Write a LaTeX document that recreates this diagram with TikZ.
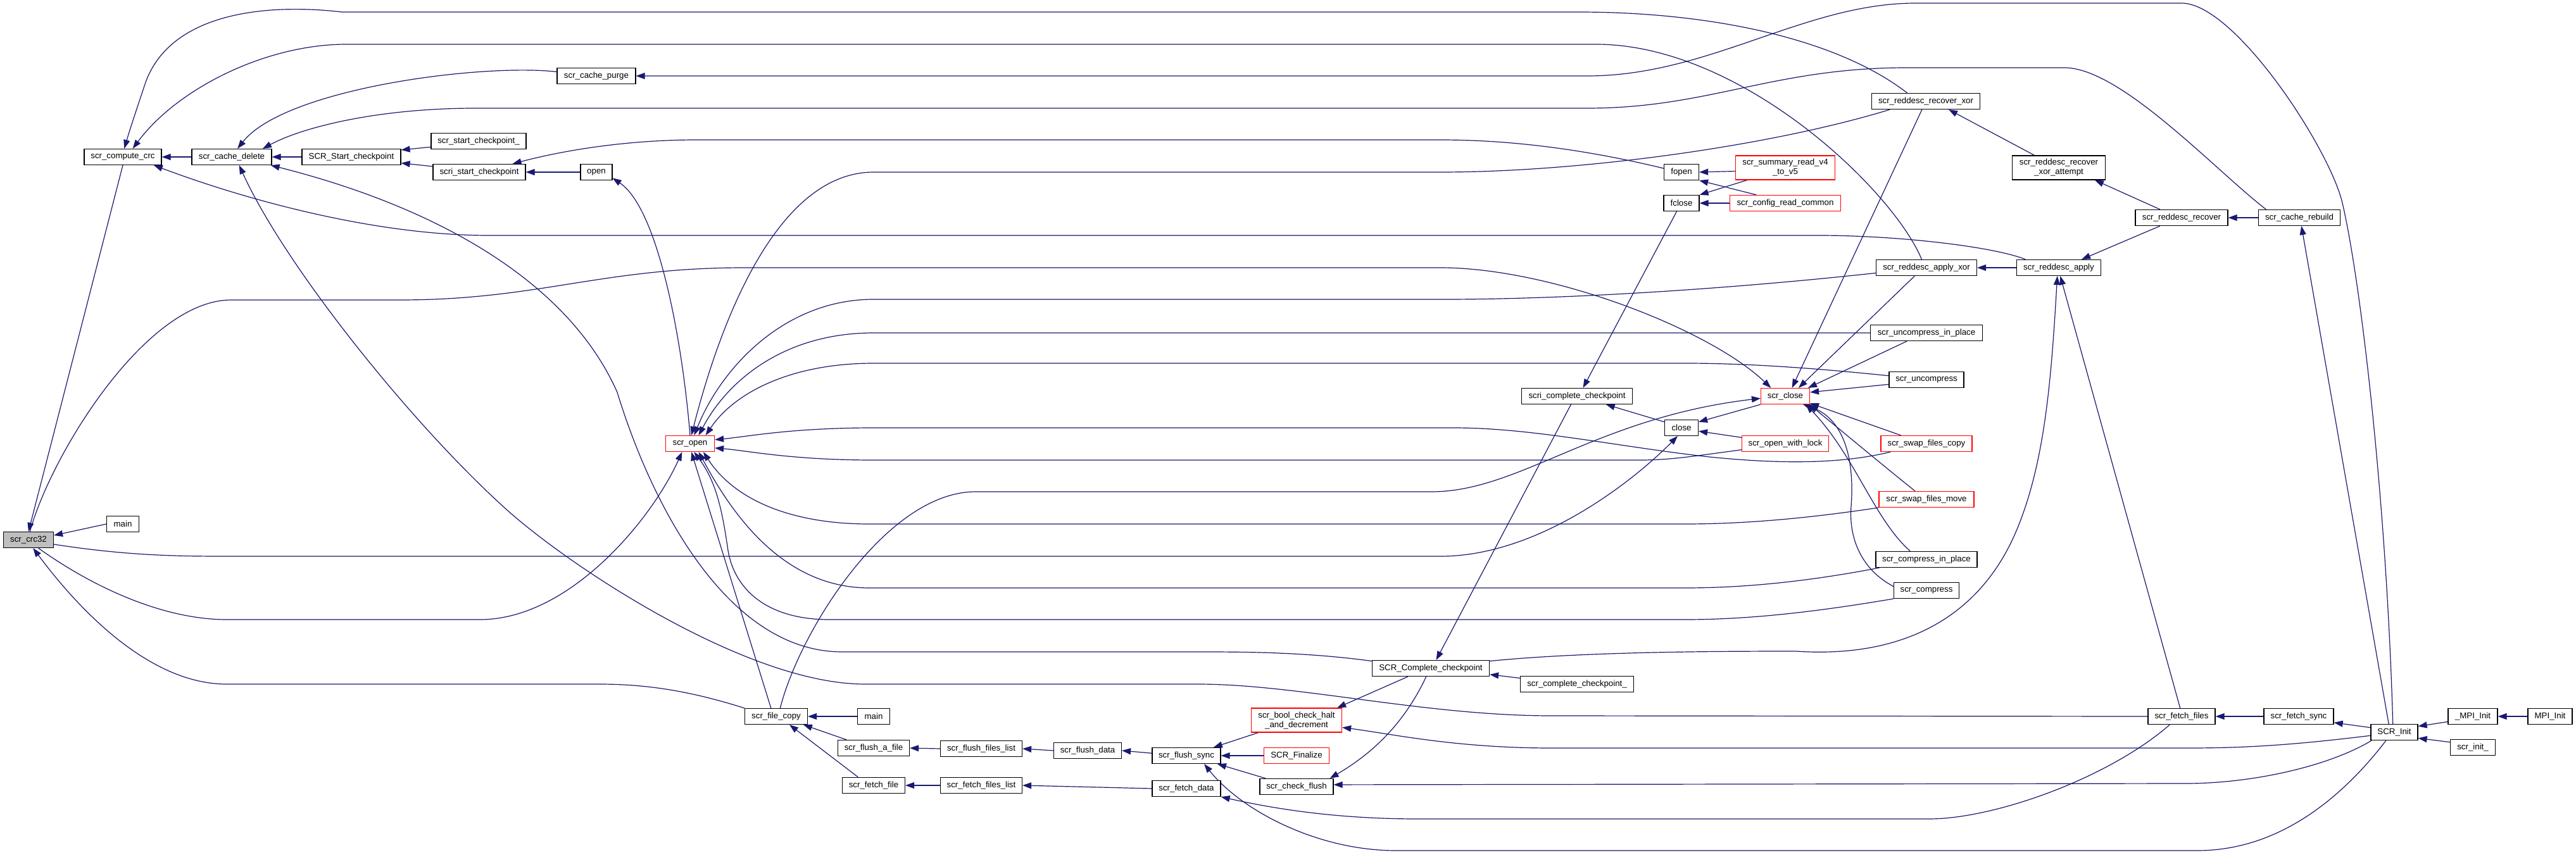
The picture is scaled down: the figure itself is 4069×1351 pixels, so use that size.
\documentclass[tikz,border=0pt]{standalone}
\usepackage{fontspec}
\setmainfont{Liberation Sans}
\usetikzlibrary{arrows.meta}
\definecolor{edgec}{HTML}{191970}
\definecolor{crcgray}{HTML}{BFBFBF}
\pgfdeclarelayer{bg}
\pgfsetlayers{bg,main}
\begin{document}
\begin{tikzpicture}[x=1pt,y=-1pt,
  nd/.style={draw=black, line width=1.2pt, fill=white, minimum height=25pt, inner xsep=2pt, inner ysep=1pt,
    font=\fontsize{13.3}{15}\selectfont, align=center},
  rd/.style={nd, draw=red},
  cl/.style={draw=edgec, line width=1.2pt, -{Triangle[length=14pt,width=10pt]}}]
\useasboundingbox (0,0) rectangle (4069,1351);
% nodes
\node[nd,fill=crcgray,minimum width=79pt] (crc) at (45,853) {scr\_crc32};
\node[nd,minimum width=51pt] (mainA) at (194,828) {main};
\node[nd,minimum width=122pt] (ccrc) at (194,248) {scr\_compute\_crc};
\node[nd,minimum width=126pt] (cdel) at (366,248) {scr\_cache\_delete};
\node[nd,minimum width=156pt] (SSc) at (555,248) {SCR\_Start\_checkpoint};
\node[nd,minimum width=150pt] (sscu) at (756,223) {scr\_start\_checkpoint\_};
\node[nd,minimum width=146pt] (sric) at (757,272) {scri\_start\_checkpoint};
\node[nd,minimum width=50pt] (opn) at (942,272) {open};
\node[nd,minimum width=124pt] (purge) at (942,120) {scr\_cache\_purge};
\node[rd,minimum width=77pt] (sopen) at (1090,701) {scr\_open};
\node[nd,minimum width=99pt] (fcopy) at (1226,1132) {scr\_file\_copy};
\node[nd,minimum width=51pt] (mainB) at (1380,1132) {main};
\node[nd,minimum width=113pt] (flaf) at (1380,1182) {scr\_flush\_a\_file};
\node[nd,minimum width=129pt] (ffl) at (1550,1183) {scr\_flush\_files\_list};
\node[nd,minimum width=107pt] (fdata) at (1718,1186) {scr\_flush\_data};
\node[nd,minimum width=108pt] (fsync) at (1874,1194) {scr\_flush\_sync};
\node[rd,minimum width=143pt,minimum height=38pt] (bool) at (2048,1138) {scr\_bool\_check\_halt\\\_and\_decrement};
\node[rd,minimum width=103pt] (fin) at (2048,1194) {SCR\_Finalize};
\node[nd,minimum width=116pt] (cflush) at (2048,1243) {scr\_check\_flush};
\node[nd,minimum width=99pt] (ffile) at (1380,1241) {scr\_fetch\_file};
\node[nd,minimum width=129pt] (fetfl) at (1550,1241) {scr\_fetch\_files\_list};
\node[nd,minimum width=108pt] (fetd) at (1874,1246) {scr\_fetch\_data};
\node[nd,minimum width=171pt] (rxor) at (3042,160) {scr\_reddesc\_recover\_xor};
\node[nd,minimum width=55pt] (fopen) at (2656,272) {fopen};
\node[nd,minimum width=56pt] (fclose) at (2656,321) {fclose};
\node[rd,minimum width=157pt,minimum height=38pt] (sumr) at (2820,265) {scr\_summary\_read\_v4\\\_to\_v5};
\node[rd,minimum width=175pt] (cfg) at (2820,321) {scr\_config\_read\_common};
\node[nd,minimum width=159pt] (axor) at (3043,423) {scr\_reddesc\_apply\_xor};
\node[nd,minimum width=177pt] (uip) at (3043,526) {scr\_uncompress\_in\_place};
\node[nd,minimum width=118pt] (unc) at (3043,600) {scr\_uncompress};
\node[rd,minimum width=77pt] (sclose) at (2820,626) {scr\_close};
\node[nd,minimum width=175pt] (scc) at (2491,626) {scri\_complete\_checkpoint};
\node[nd,minimum width=53pt] (clo) at (2656,676) {close};
\node[rd,minimum width=137pt] (owl) at (2820,701) {scr\_open\_with\_lock};
\node[rd,minimum width=144pt] (sfc) at (3043,701) {scr\_swap\_files\_copy};
\node[rd,minimum width=150pt] (sfm) at (3043,789) {scr\_swap\_files\_move};
\node[nd,minimum width=160pt] (cip) at (3043,884) {scr\_compress\_in\_place};
\node[nd,minimum width=103pt] (comp) at (3043,933) {scr\_compress};
\node[nd,minimum width=185pt] (SCc) at (2260,1056) {SCR\_Complete\_checkpoint};
\node[nd,minimum width=179pt] (sccu) at (2491,1081) {scr\_complete\_checkpoint\_};
\node[nd,minimum width=147pt,minimum height=38pt] (att) at (3252,265) {scr\_reddesc\_recover\\\_xor\_attempt};
\node[nd,minimum width=146pt] (recov) at (3446,344) {scr\_reddesc\_recover};
\node[nd,minimum width=129pt] (rebuild) at (3632,344) {scr\_cache\_rebuild};
\node[nd,minimum width=133pt] (apply) at (3252,423) {scr\_reddesc\_apply};
\node[nd,minimum width=106pt] (ffiles) at (3446,1132) {scr\_fetch\_files};
\node[nd,minimum width=110pt] (fsyncB) at (3631,1132) {scr\_fetch\_sync};
\node[nd,minimum width=74pt] (init) at (3782,1157) {SCR\_Init};
\node[nd,minimum width=78pt] (mpiu) at (3906,1132) {\_MPI\_Init};
\node[nd,minimum width=70pt] (mpi) at (4028,1132) {MPI\_Init};
\node[nd,minimum width=71pt] (initu) at (3906,1181) {scr\_init\_};
% edges
\begin{pgfonlayer}{bg}
\fill[white] (0,0) rectangle (4069,1351);
\draw[cl] (mainA.west) -- (crc.10);
\draw[cl] (ccrc.south) -- (crc.north);
\draw[cl] (crc.80) .. controls (80,720) and (230,474) .. (365,474) -- (631,474) .. controls (850,474) and (950,423) .. (1176,423) -- (2275,423) .. controls (2450,423) and (2700,520) .. (sclose.150);
\draw[cl] (crc.-10) .. controls (200,878) and (280,879) .. (358,879) -- (2275,879) .. controls (2430,879) and (2580,760) .. (clo.245);
\draw[cl] (crc.-40) .. controls (150,930) and (260,979) .. (358,979) -- (758,979) .. controls (900,979) and (1030,820) .. (sopen.226);
\draw[cl] (fcopy.north west) .. controls (1100,1095) and (1030,1081) .. (947,1081) -- (358,1081) .. controls (220,1081) and (100,930) .. (crc.299);
\draw[cl] (fcopy.64) .. controls (1262,1000) and (1400,777) .. (1541,777) -- (2261,777) .. controls (2400,777) and (2520,660) .. (sclose.185);
\draw[cl] (fcopy.122) -- (sopen.279);
\draw[cl] (mainB.west) -- (fcopy.east);
\draw[cl] (flaf.163) -- (fcopy.343);
\draw[cl] (ffile.152) -- (fcopy.328);
\draw[cl] (ffl.west) -- (flaf.east);
\draw[cl] (fdata.west) -- (ffl.east);
\draw[cl] (fsync.176) -- (fdata.east);
\draw[cl] (bool.198) -- (fsync.17);
\draw[cl] (fin.west) -- (fsync.east);
\draw[cl] (cflush.165) -- (fsync.345);
\draw[cl] (init.225) .. controls (3700,1260) and (3600,1344) .. (3471,1344) -- (2205,1344) .. controls (2080,1344) and (1960,1280) .. (fsync.335);
\draw[cl] (fetfl.west) -- (ffile.east);
\draw[cl] (fetd.west) -- (fetfl.east);
\draw[cl] (ffiles.215) .. controls (3330,1230) and (3150,1294) .. (3047,1294) -- (2240,1294) .. controls (2100,1294) and (2000,1275) .. (fetd.south east);
\draw[cl] (fsyncB.west) -- (ffiles.east);
\draw[cl] (init.169) -- (fsyncB.-10);
\draw[cl] (mpiu.192) -- (init.14);
\draw[cl] (mpi.west) -- (mpiu.east);
\draw[cl] (initu.167) -- (init.-14);
\draw[cl] (init.188) .. controls (3640,1175) and (3560,1182) .. (3458,1182) -- (2451,1182) .. controls (2300,1182) and (2200,1160) .. (bool.-9);
\draw[cl] (init.200) .. controls (3680,1210) and (3560,1238) .. (3452,1238) -- (cflush.3);
\draw[cl] (SCc.241) .. controls (2215,1150) and (2160,1195) .. (cflush.14);
\draw[cl] (SCc.200) -- (bool.17);
\draw[cl] (sccu.174) -- (SCc.-6);
\draw[cl] (scc.234) -- (SCc.57);
\draw[cl] (fclose.240) -- (scc.54);
\draw[cl] (clo.161) -- (scc.-16);
\draw[cl] (sclose.south west) -- (clo.19);
\draw[cl] (owl.172) -- (clo.-11);
\draw[cl] (sumr.184) -- (fopen.east);
\draw[cl] (cfg.164) -- (fopen.south east);
\draw[cl] (sumr.198) -- (fclose.north east);
\draw[cl] (cfg.west) -- (fclose.east);
\draw[cl] (fopen.168) .. controls (2520,240) and (2400,221) .. (2275,221) -- (1100,221) .. controls (1000,221) and (900,235) .. (sric.14);
\draw[cl] (sric.173) -- (SSc.-7);
\draw[cl] (sscu.187) -- (SSc.8);
\draw[cl] (SSc.west) -- (cdel.east);
\draw[cl] (cdel.west) -- (ccrc.east);
\draw[cl] (opn.west) -- (sric.east);
\draw[cl] (sopen.north) .. controls (1078,540) and (1040,330) .. (opn.-20);
\draw[cl] (purge.174) .. controls (760,100) and (450,140) .. (cdel.55);
\draw[cl] (rebuild.166) .. controls (3500,270) and (3350,107) .. (3261,107) -- (3012,107) .. controls (2800,107) and (2700,171) .. (2507,171) -- (751,171) .. controls (600,171) and (480,200) .. (cdel.15);
\draw[cl] (SCc.173) .. controls (2060,1030) and (1960,1030) .. (1892,1030) -- (1330,1030) .. controls (1150,1030) and (1030,800) .. (975,620) .. controls (900,450) and (700,330) .. (cdel.-12);
\draw[cl] (ffiles.west) -- (2451,1131) .. controls (2250,1131) and (2050,1081) .. (1892,1081) -- (1366,1081) .. controls (1180,1081) and (900,895) .. (800,805) .. controls (650,670) and (450,420) .. (cdel.-48);
\draw[cl] (SCc.7) .. controls (2500,1030) and (2700,1029) .. (2837,1029) .. controls (3000,1040) and (3120,980) .. (3180,850) .. controls (3230,740) and (3240,600) .. (apply.260);
\draw[cl] (ffiles.100) -- (apply.280);
\draw[cl] (apply.west) -- (axor.east);
\draw[cl] (recov.201) -- (apply.20);
\draw[cl] (recov.159) -- (att.-19);
\draw[cl] (att.153) -- (rxor.-20);
\draw[cl] (rebuild.west) -- (recov.east);
\draw[cl] (init.124) -- (rebuild.-76);
\draw[cl] (init.100) .. controls (3770,800) and (3730,450) .. (3700,321) .. controls (3680,235) and (3530,5) .. (3446,5) -- (3026,5) .. controls (2850,5) and (2700,120) .. (2507,120) -- (purge.east);
\draw[cl] (rxor.156) .. controls (2900,60) and (2700,19) .. (2493,19) -- (540,19) .. controls (420,5) and (270,20) .. (230,130) .. controls (215,175) and (205,205) .. (ccrc.80);
\draw[cl] (axor.120) .. controls (2990,300) and (2750,70) .. (2521,70) -- (547,70) .. controls (420,70) and (280,140) .. (ccrc.40);
\draw[cl] (apply.166) .. controls (3150,390) and (3000,372) .. (2872,372) -- (772,372) .. controls (600,372) and (400,320) .. (ccrc.-15);
\draw[cl] (rxor.193) .. controls (2800,230) and (2500,272) .. (2275,272) -- (1380,272) .. controls (1230,272) and (1140,500) .. (sopen.81);
\draw[cl] (axor.186) .. controls (2700,460) and (2450,473) .. (2282,473) -- (1380,473) .. controls (1240,473) and (1140,580) .. (sopen.64);
\draw[cl] (uip.west) -- (1380,526) .. controls (1240,526) and (1150,600) .. (sopen.44);
\draw[cl] (unc.174) .. controls (2850,580) and (2750,574) .. (2661,574) -- (1380,574) .. controls (1250,574) and (1160,620) .. (sopen.28);
\draw[cl] (sfc.193) .. controls (2900,735) and (2800,732) .. (2700,722) .. controls (2550,705) and (2420,676) .. (2296,676) -- (1380,676) .. controls (1250,676) and (1180,690) .. (sopen.9);
\draw[cl] (owl.188) .. controls (2680,720) and (2640,727) .. (2591,727) -- (1380,727) .. controls (1250,727) and (1180,712) .. (sopen.-10);
\draw[cl] (sfm.south west) .. controls (2850,820) and (2750,828) .. (2661,828) -- (1373,828) .. controls (1250,828) and (1160,790) .. (sopen.328);
\draw[cl] (cip.190) .. controls (2850,920) and (2750,929) .. (2661,929) -- (1373,929) .. controls (1230,929) and (1150,800) .. (sopen.316);
\draw[cl] (comp.south west) .. controls (2850,970) and (2750,979) .. (2661,979) -- (1310,979) .. controls (1210,979) and (1160,930) .. (1150,870) .. controls (1140,800) and (1130,760) .. (sopen.296);
\draw[cl] (rxor.245) -- (sclose.51);
\draw[cl] (axor.215) -- (sclose.32);
\draw[cl] (uip.203) -- (sclose.20);
\draw[cl] (unc.187) -- (sclose.9);
\draw[cl] (sfc.162) -- (sclose.-16);
\draw[cl] (sfm.144) .. controls (2980,740) and (2920,690) .. (sclose.-19);
\draw[cl] (cip.153) .. controls (2960,820) and (2930,720) .. (sclose.-22);
\draw[cl] (comp.173) .. controls (2940,900) and (2920,850) .. (2924,800) .. controls (2930,720) and (2910,660) .. (sclose.-25);
\end{pgfonlayer}
\end{tikzpicture}
\end{document}
